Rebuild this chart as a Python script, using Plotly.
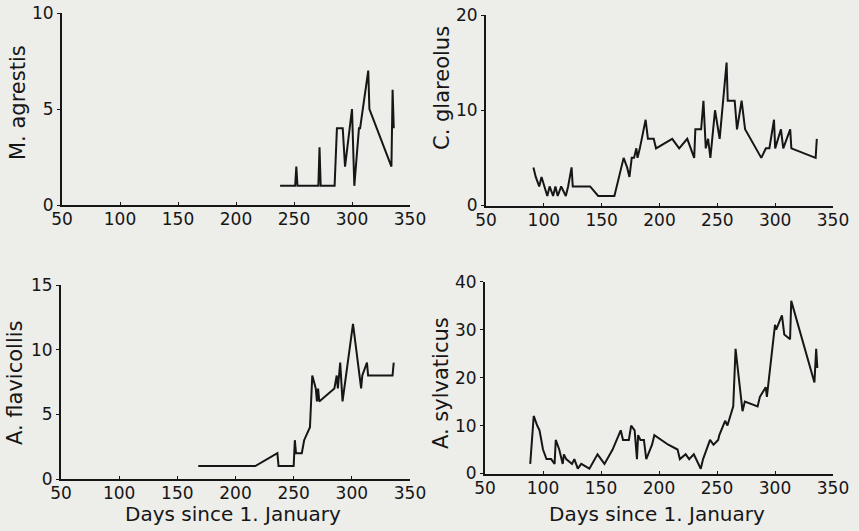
import plotly.graph_objects as go

# ---- data ----
ma_day = [238, 251, 252, 253, 271, 272, 273, 285, 287, 292, 294, 300, 302, 306, 307, 314, 315, 334, 335, 336]
ma_val = [1, 1, 2, 1, 1, 3, 1, 1, 4, 4, 2, 5, 1, 4, 4, 7, 5, 2, 6, 4]

cg_day = [91, 93, 96, 98, 103, 105, 108, 110, 112, 115, 119, 121, 124, 125, 140, 147, 161, 167, 169, 172,
          174, 176, 178, 180, 181, 183, 188, 190, 195, 197, 211, 217, 224, 230, 231, 236, 238, 240, 242, 244,
          248, 252, 258, 259, 265, 267, 271, 274, 288, 292, 295, 299, 300, 305, 307, 313, 314, 335, 336]
cg_val = [4, 3, 2, 3, 1, 2, 1, 2, 1, 2, 1, 2, 4, 2, 2, 1, 1, 4, 5, 4,
          3, 5, 5, 6, 5, 6, 9, 7, 7, 6, 7, 6, 7, 5, 8, 8, 11, 6, 7, 5,
          10, 7, 15, 11, 11, 8, 11, 8, 5, 6, 6, 9, 6, 8, 6, 8, 6, 5, 7]

af_day = [168, 217, 236, 237, 250, 251, 252, 257, 259, 264, 266, 269, 270, 271, 272, 285, 287, 288, 290,
          292, 301, 308, 309, 313, 314, 335, 336]
af_val = [1, 1, 2, 1, 1, 3, 2, 2, 3, 4, 8, 7, 6, 7, 6, 7, 8, 7, 9,
          6, 12, 7, 8, 9, 8, 8, 9]

as_day = [89, 92, 95, 97, 100, 103, 107, 110, 111, 114, 117, 118, 120, 125, 127, 130, 133, 140, 147, 153,
          160, 167, 169, 174, 176, 179, 181, 182, 184, 187, 189, 194, 196, 208, 216, 218, 223, 226, 230, 236,
          238, 244, 247, 251, 252, 257, 259, 264, 266, 272, 274, 285, 287, 292, 293, 300, 301, 306, 308, 313,
          314, 334, 335.5, 336.5]
as_val = [2, 12, 10, 9, 5, 3, 3, 2, 7, 5, 2, 4, 3, 2, 3, 1, 2, 1, 4, 2,
          5, 9, 7, 7, 10, 9, 3, 8, 7, 7, 3, 6, 8, 6, 5, 3, 4, 3, 4, 1,
          3, 7, 6, 7, 8, 11, 10, 14, 26, 13, 15, 14, 16, 18, 16, 31, 30, 33, 29, 28,
          36, 19, 26, 22]

x_ticks = [50, 100, 150, 200, 250, 300, 350]
species = ["M. agrestis", "C. glareolus", "A. flavicollis", "A. sylvaticus"]
y_max = [10, 20, 15, 40]
y_step = [5, 10, 5, 10]
x_title = "Days since 1. January"

W, H = 859, 531
BG = "#edede9"
INK = "#161616"
FONT = "DejaVu Sans"


def px_x(p):
    return p / W


def px_y(p):
    return 1 - p / H


# pixel boxes in the window (left, right, top, bottom)
boxes = [(62, 410, 13, 205), (486, 833, 15, 205.5), (61, 410, 285, 479), (485, 833, 281.7, 473.5)]

fig = go.Figure()
series = [(ma_day, ma_val), (cg_day, cg_val), (af_day, af_val), (as_day, as_val)]
for i, (d, v) in enumerate(series):
    sfx = "" if i == 0 else str(i + 1)
    fig.add_trace(go.Scatter(x=d, y=v, mode="lines", xaxis="x" + sfx, yaxis="y" + sfx,
                             line=dict(color=INK, width=2), showlegend=False, hoverinfo="skip"))

layout = dict(width=W, height=H, margin=dict(l=0, r=0, t=0, b=0, autoexpand=False),
              paper_bgcolor=BG, plot_bgcolor=BG, font=dict(family=FONT, color=INK, size=17))
for i, (l, r, t, b) in enumerate(boxes):
    sfx = "" if i == 0 else str(i + 1)
    layout["xaxis" + sfx] = dict(domain=[px_x(l), px_x(r)], range=[50, 350], tickvals=x_ticks,
                                 showline=True, linecolor=INK, linewidth=2, showgrid=False, zeroline=False,
                                 ticks="inside", ticklen=3, tickcolor=INK, anchor="y" + sfx, automargin=False,
                                 ticklabeloverflow="allow", ticklabelstandoff=-2,
                                 tickfont=dict(size=17, family=FONT, color=INK))
    layout["yaxis" + sfx] = dict(domain=[px_y(b), px_y(t)], range=[0, y_max[i]],
                                 tickvals=list(range(0, y_max[i] + 1, y_step[i])),
                                 showline=True, linecolor=INK, linewidth=2, showgrid=False, zeroline=False,
                                 ticks="outside", ticklen=3, tickcolor=INK, anchor="x" + sfx, automargin=False,
                                 ticklabeloverflow="allow",
                                 tickfont=dict(size=17, family=FONT, color=INK))

title_pos = [(18, 103), (442, 88), (15, 383), (441, 383)]
ann = []
for name, (px, py) in zip(species, title_pos):
    ann.append(dict(text=name, x=px_x(px), y=px_y(py), xref="paper", yref="paper", showarrow=False,
                    textangle=-90, font=dict(size=21, family=FONT, color=INK), xanchor="center", yanchor="middle"))
for px, py in [(233, 514), (657, 514)]:
    ann.append(dict(text=x_title, x=px_x(px), y=px_y(py), xref="paper", yref="paper", showarrow=False,
                    font=dict(size=20, family=FONT, color=INK), xanchor="center", yanchor="middle"))
layout["annotations"] = ann
fig.update_layout(**layout)
fig.write_html("out.html", config={"displayModeBar": False},
               post_script="document.body.style.margin='0px';document.body.style.background='%s';" % BG)
